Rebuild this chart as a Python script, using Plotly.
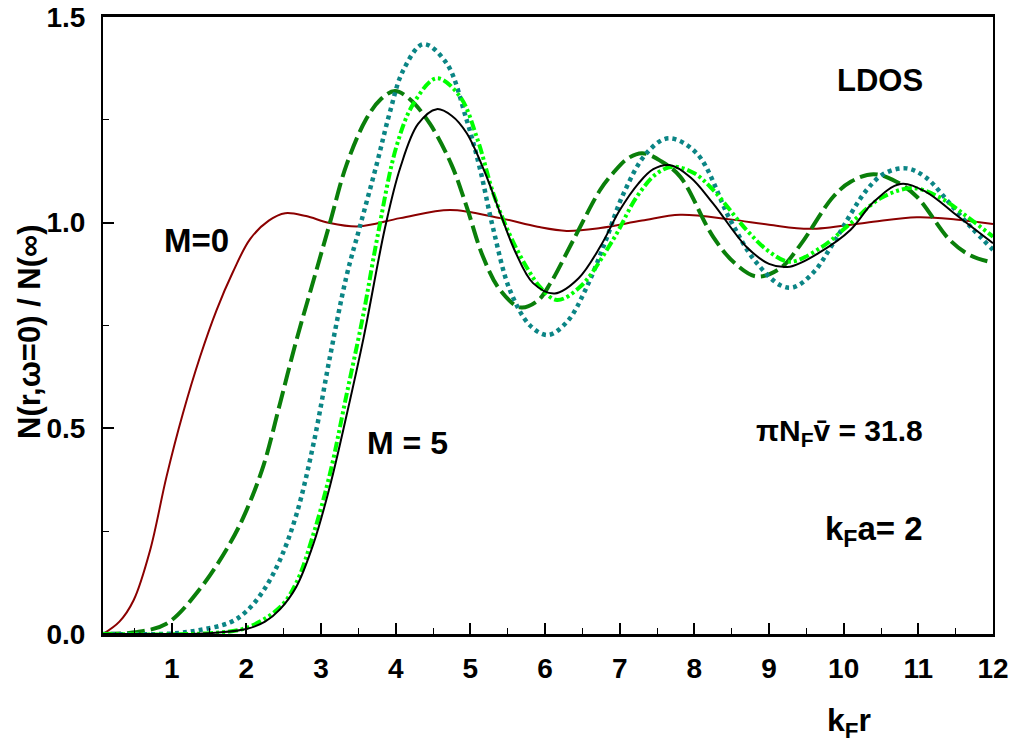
import plotly.graph_objects as go

# ---- data ----
x_m0 = [0.08, 0.3, 0.49, 0.71, 0.93, 1.15, 1.38, 1.60, 1.82, 2.05, 2.3, 2.52, 2.8, 3.1, 3.5, 4.06, 4.73, 5.4, 5.9, 6.29, 6.74, 7.3, 7.81, 8.48, 9.0, 9.55, 10.3, 10.98, 11.5, 12.0]
y_m0 = [0.0, 0.03, 0.082, 0.203, 0.382, 0.536, 0.674, 0.787, 0.88, 0.96, 1.005, 1.023, 1.016, 1.0, 0.991, 1.011, 1.031, 1.011, 0.99, 0.98, 0.987, 1.005, 1.019, 1.008, 0.995, 0.985, 1.0, 1.013, 1.008, 0.997]

x_dg = [0.08, 0.5, 0.93, 1.38, 1.78, 2.0, 2.23, 2.45, 2.67, 2.9, 3.12, 3.34, 3.6, 3.8, 3.99, 4.19, 4.46, 4.75, 4.95, 5.17, 5.4, 5.67, 5.9, 6.07, 6.38, 6.74, 6.91, 7.1, 7.3, 7.55, 7.81, 8.25, 8.55, 8.84, 9.15, 9.42, 9.86, 10.1, 10.4, 10.7, 10.98, 11.42, 11.7, 12.0]
y_dg = [0.0, 0.004, 0.025, 0.11, 0.22, 0.30, 0.41, 0.56, 0.714, 0.86, 1.0, 1.14, 1.25, 1.30, 1.32, 1.30, 1.24, 1.14, 1.039, 0.917, 0.836, 0.794, 0.81, 0.852, 0.958, 1.08, 1.12, 1.155, 1.169, 1.15, 1.112, 0.966, 0.90, 0.869, 0.889, 0.946, 1.063, 1.10, 1.118, 1.10, 1.063, 0.958, 0.92, 0.903]

x_tl = [0.08, 1.0, 1.38, 1.78, 2.0, 2.23, 2.45, 2.67, 2.9, 3.12, 3.34, 3.52, 3.75, 3.92, 4.1, 4.37, 4.68, 4.95, 5.13, 5.3, 5.53, 5.8, 6.04, 6.3, 6.55, 6.8, 7.05, 7.36, 7.65, 8.03, 8.48, 8.8, 9.15, 9.33, 9.6, 9.86, 10.31, 10.55, 10.84, 11.1, 11.42, 11.7, 12.0]
y_tl = [0.0, 0.001, 0.01, 0.028, 0.055, 0.106, 0.18, 0.29, 0.463, 0.674, 0.869, 0.99, 1.145, 1.267, 1.37, 1.434, 1.388, 1.25, 1.13, 0.99, 0.836, 0.75, 0.727, 0.76, 0.84, 0.95, 1.07, 1.169, 1.205, 1.169, 1.007, 0.91, 0.848, 0.843, 0.88, 0.95, 1.08, 1.12, 1.132, 1.11, 1.047, 0.99, 0.934]

x_lm = [0.08, 1.5, 2.0, 2.45, 2.67, 2.9, 3.12, 3.34, 3.57, 3.75, 4.01, 4.24, 4.55, 4.86, 5.1, 5.31, 5.53, 5.75, 5.95, 6.16, 6.47, 6.91, 7.23, 7.5, 7.72, 8.0, 8.25, 8.7, 9.0, 9.28, 9.7, 10.09, 10.5, 10.93, 11.3, 11.65, 12.0]
y_lm = [0.0, 0.002, 0.015, 0.065, 0.125, 0.244, 0.39, 0.58, 0.78, 0.96, 1.185, 1.29, 1.351, 1.307, 1.20, 1.07, 0.97, 0.893, 0.84, 0.812, 0.844, 0.958, 1.063, 1.12, 1.136, 1.12, 1.08, 0.982, 0.93, 0.905, 0.94, 0.998, 1.06, 1.084, 1.06, 1.015, 0.966]

x_m5 = [0.08, 1.0, 1.5, 2.0, 2.25, 2.45, 2.67, 2.9, 3.12, 3.34, 3.57, 3.86, 4.06, 4.3, 4.55, 4.75, 4.95, 5.2, 5.4, 5.6, 5.84, 6.13, 6.45, 6.75, 7.0, 7.25, 7.45, 7.67, 7.95, 8.25, 8.7, 9.0, 9.28, 9.7, 10.09, 10.4, 10.76, 11.1, 11.5, 12.0]
y_m5 = [0.0, 0.0, 0.002, 0.012, 0.03, 0.06, 0.115, 0.22, 0.36, 0.53, 0.72, 0.99, 1.133, 1.24, 1.276, 1.26, 1.218, 1.12, 1.023, 0.93, 0.853, 0.828, 0.865, 0.945, 1.03, 1.095, 1.13, 1.14, 1.11, 1.047, 0.941, 0.90, 0.893, 0.93, 0.982, 1.05, 1.094, 1.075, 1.02, 0.95]

x_ticks = [1, 2, 3, 4, 5, 6, 7, 8, 9, 10, 11, 12]
y_ticks = [0.0, 0.5, 1.0, 1.5]

BOLD = "Liberation Sans"

fig = go.Figure()
spl = dict(shape="spline", smoothing=1.0)
fig.add_trace(go.Scatter(x=x_m0, y=y_m0, mode="lines", line=dict(color="#8b0000", width=2, **spl)))
fig.add_trace(go.Scatter(x=x_dg, y=y_dg, mode="lines", line=dict(color="#0a7f0a", width=4, dash="18px,6px", **spl)))
fig.add_trace(go.Scatter(x=x_tl, y=y_tl, mode="lines", line=dict(color="#0b8585", width=4.5, dash="4px,4px", **spl)))
fig.add_trace(go.Scatter(x=x_lm, y=y_lm, mode="lines", line=dict(color="#00ff00", width=4, dash="10px,3px,3px,3px,3px,3px", **spl)))
fig.add_trace(go.Scatter(x=x_m5, y=y_m5, mode="lines", line=dict(color="black", width=2, **spl)))

L, R, T, B = 103, 19, 17, 115
W, H = 1012, 749
pw, ph = W - L - R, H - T - B

def px(xp):
    return (xp - L) / pw

def py(yp):
    return (H - B - yp) / ph

def ann(text, x, y, size, family=BOLD, xanchor="center", angle=0):
    fig.add_annotation(text=text, x=px(x), y=py(y), xref="paper", yref="paper",
                       showarrow=False, xanchor=xanchor, yanchor="middle", textangle=angle,
                       font=dict(family=family, size=size, color="black", weight="bold"))

ann("LDOS", 880, 80, 31)
ann("M=0", 196, 240, 33)
ann("M = 5", 407, 443, 32)
ann("πN<sub>F</sub>v\u0304 = 31.8", 925, 432, 30, xanchor="right")
ann("k<sub>F</sub>a= 2", 925, 531, 33, xanchor="right")
ann("k<sub>F</sub>r", 849, 722, 32)
ann("N(r,ω=0) / N(∞)", 29, 332, 31, angle=-90)

fig.update_layout(
    width=W, height=H, margin=dict(l=L, r=R, t=T, b=B, autoexpand=False),
    paper_bgcolor="white", plot_bgcolor="white", showlegend=False,
    xaxis=dict(range=[0.08, 12], tickvals=x_ticks, ticktext=[str(v) for v in x_ticks],
               ticks="inside", ticklen=11, tickwidth=1.5, tickcolor="black", automargin=False,
               minor=dict(ticks="inside", dtick=0.5, tick0=0, ticklen=6, tickcolor="black", tickwidth=1),
               showline=True, linecolor="black", linewidth=3, mirror=True, showgrid=False, zeroline=False,
               tickfont=dict(family=BOLD, size=28, color="black", weight="bold"), ticklabelstandoff=7),
    yaxis=dict(range=[0, 1.5], tickvals=y_ticks, ticktext=["%.1f" % v for v in y_ticks],
               ticks="inside", ticklen=11, tickwidth=1.5, tickcolor="black", automargin=False,
               minor=dict(ticks="inside", dtick=0.25, tick0=0, ticklen=6, tickcolor="black", tickwidth=1),
               showline=True, linecolor="black", linewidth=2, mirror=True, showgrid=False, zeroline=False,
               tickfont=dict(family=BOLD, size=28, color="black", weight="bold"), ticklabelstandoff=10),
)

fig.write_html("out.html", config={"displayModeBar": False},
               post_script="document.body.style.margin='0px';")
